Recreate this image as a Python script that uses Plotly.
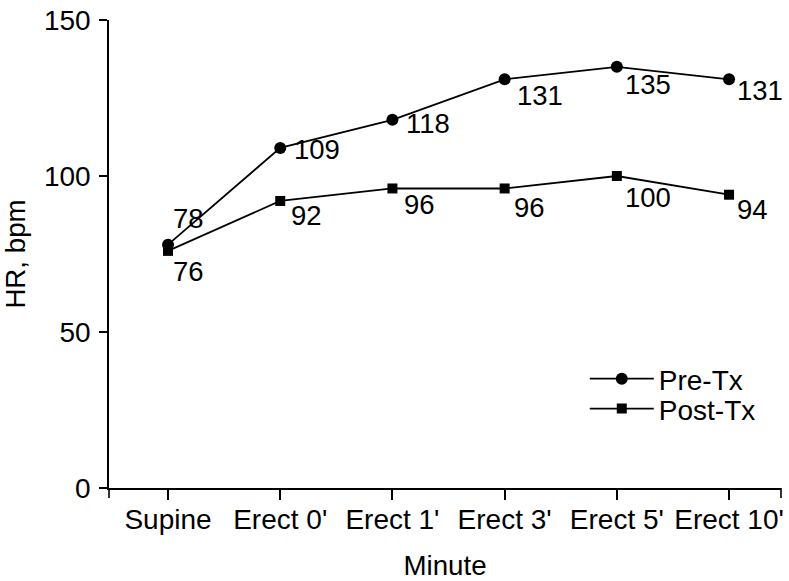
import plotly.graph_objects as go

# ---- data ----
minutes = ["Supine", "Erect 0'", "Erect 1'", "Erect 3'", "Erect 5'", "Erect 10'"]
pre_tx = [78, 109, 118, 131, 135, 131]
post_tx = [76, 92, 96, 96, 100, 94]
y_ticks = [0, 50, 100, 150]

# ---- label placement style (pixel offsets of label left edge / centre from the point) ----
pre_offsets = [(3, -26), (12, 2), (12, 4), (10, 16), (6, 18), (6, 11)]
post_offsets = [(3, 21), (9, 15), (10, 16.5), (7, 19.5), (6, 21), (6, 15)]

FONT = "Liberation Sans, Arial, Helvetica, sans-serif"
FS = 28

fig = go.Figure()
fig.add_trace(go.Scatter(
    x=minutes, y=pre_tx, name="Pre-Tx", mode="lines+markers",
    line=dict(color="black", width=1.8),
    marker=dict(symbol="circle", size=12, color="black"),
    legend="legend2",
))
fig.add_trace(go.Scatter(
    x=minutes, y=post_tx, name="Post-Tx", mode="lines+markers",
    line=dict(color="black", width=1.8),
    marker=dict(symbol="square", size=10, color="black"),
    legend="legend3",
))

annotations = []
for vals, offs in ((pre_tx, pre_offsets), (post_tx, post_offsets)):
    for cat, v, (dx, dy) in zip(minutes, vals, offs):
        annotations.append(dict(
            x=cat, y=v, xref="x", yref="y", text=str(v), showarrow=False,
            xanchor="left", yanchor="middle", xshift=dx, yshift=-dy,
            font=dict(family=FONT, size=27.5, color="black"),
        ))

shapes = []
for xd in (0, 1):
    shapes.append(dict(
        type="line", xref="x domain", yref="y domain",
        x0=xd, x1=xd, ysizemode="pixel", yanchor=0, y0=0, y1=-10,
        line=dict(color="black", width=1.6),
    ))

legend_style = dict(
    xanchor="left", yanchor="middle",
    bgcolor="rgba(0,0,0,0)", itemwidth=64,
    font=dict(family=FONT, size=FS, color="black"),
)

fig.update_layout(
    width=789, height=581, autosize=False,
    margin=dict(l=109, r=8, t=20, b=93, pad=0),
    paper_bgcolor="white", plot_bgcolor="white",
    font=dict(family=FONT, size=FS, color="black"),
    annotations=annotations, shapes=shapes,
    legend2=dict(x=0.708, y=0.233, **legend_style),
    legend3=dict(x=0.708, y=0.169, **legend_style),
    xaxis=dict(
        type="category", range=[-0.526, 5.463],
        showline=True, linecolor="black", linewidth=1.6,
        ticks="outside", ticklen=10, tickwidth=1.6, tickcolor="black",
        tickfont=dict(family=FONT, size=FS, color="black"),
        ticklabelstandoff=-4, ticklabeloverflow="allow",
        showgrid=False, zeroline=False,
        title=dict(text="Minute", standoff=21,
                   font=dict(family=FONT, size=27.7, color="black")),
        automargin=False,
    ),
    yaxis=dict(
        range=[0, 150], tickvals=y_ticks,
        showline=True, linecolor="black", linewidth=1.6,
        ticks="outside", ticklen=8, tickwidth=1.6, tickcolor="black",
        tickfont=dict(family=FONT, size=FS, color="black"),
        ticklabelstandoff=3, ticklabeloverflow="allow",
        showgrid=False, zeroline=False,
        title=dict(text="HR, bpm", standoff=30,
                   font=dict(family=FONT, size=27.7, color="black")),
        automargin=False,
    ),
)

fig.write_html("out.html", config={"displayModeBar": False},
               post_script="document.body.style.margin='0';")
